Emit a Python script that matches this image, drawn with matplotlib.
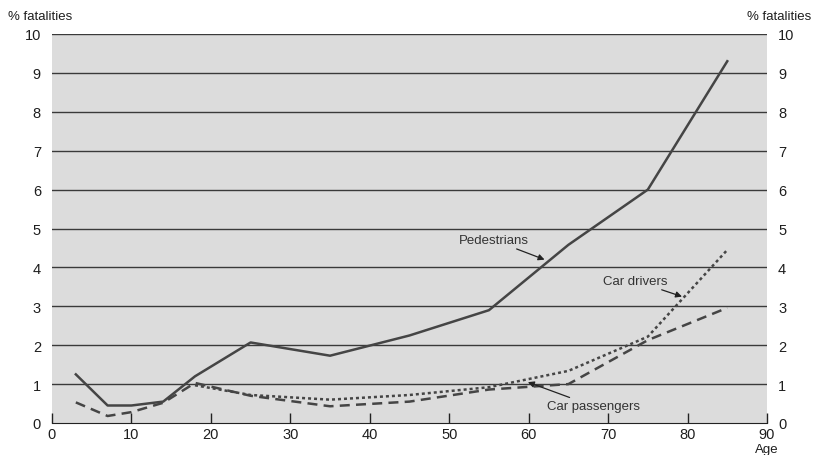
import numpy as np
import matplotlib.pyplot as plt

plt.rcParams['font.family'] = ['Liberation Sans Narrow', 'Liberation Sans', 'DejaVu Sans']

# age groups (mid points) and % of fatalities
ped_age = [3, 7, 10, 14, 18, 25, 35, 45, 55, 65, 75, 85]
pedestrians = [1.25, 0.45, 0.45, 0.55, 1.2, 2.07, 1.73, 2.25, 2.9, 4.58, 6.0, 9.3]

drv_age = [18, 25, 35, 45, 55, 65, 75, 85]
car_drivers = [0.97, 0.72, 0.6, 0.72, 0.92, 1.34, 2.22, 4.45]

pas_age = [3, 7, 10, 14, 18, 25, 35, 45, 55, 65, 75, 85]
car_passengers = [0.53, 0.18, 0.28, 0.52, 1.03, 0.7, 0.43, 0.55, 0.86, 1.0, 2.13, 2.96]

x_ticks = [0, 10, 20, 30, 40, 50, 60, 70, 80, 90]
y_ticks = list(range(0, 11))

line_col = '#454545'
txt_col = '#1e1e1e'

fig = plt.figure(figsize=(8.13, 4.56), dpi=100)
ax = fig.add_axes([52 / 813, 1 - 424 / 456, 715 / 813, 389 / 456])
ax.set_facecolor('#dcdcdc')

for y in y_ticks[1:]:
    ax.axhline(y, color='#3a3a3a', lw=1.0, zorder=1)

ax.plot(ped_age, pedestrians, color=line_col, lw=1.8, zorder=3)
ax.plot(drv_age, car_drivers, color=line_col, lw=1.8, ls=(0, (1.2, 1.2)), zorder=3)
ax.plot(pas_age, car_passengers, color=line_col, lw=1.8, ls=(0, (4, 2.5)), zorder=3)

ax.set_xlim(0, 90)
ax.set_ylim(0, 10)
ax.set_xticks(x_ticks)
ax.set_yticks(y_ticks)
for s in ['left', 'right', 'top']:
    ax.spines[s].set_visible(False)
ax.spines['bottom'].set_color('#222222')
ax.tick_params(axis='x', direction='in', length=7, width=1, color='#222222',
               labelsize=10.5, pad=3, labelcolor=txt_col)
ax.tick_params(axis='y', length=0, labelsize=10.5, pad=8, labelleft=True, labelright=True,
               labelcolor=txt_col)

fig.text(8 / 813, 1 - 17 / 456, '% fatalities', fontsize=9.5, va='center', ha='left',
         color=txt_col)
fig.text(811 / 813, 1 - 17 / 456, '% fatalities', fontsize=9.5, va='center', ha='right',
         color=txt_col)
fig.text(767 / 813, 1 - 450 / 456, 'Age', fontsize=9.5, va='center', ha='center',
         color=txt_col)

arrow = dict(arrowstyle='-|>', color='#222222', lw=0.9, mutation_scale=9,
             shrinkA=0, shrinkB=0)
ax.annotate('Pedestrians', xy=(62.0, 4.2), xytext=(60.0, 4.7), ha='right', va='center',
            fontsize=9.5, color='#333333', arrowprops=arrow)
ax.annotate('Car drivers', xy=(79.3, 3.25), xytext=(77.5, 3.65), ha='right', va='center',
            fontsize=9.5, color='#333333', arrowprops=arrow)
ax.annotate('Car passengers', xy=(59.9, 1.05), xytext=(62.3, 0.43), ha='left', va='center',
            fontsize=9.5, color='#333333', arrowprops=arrow)

fig.savefig('out.png', dpi=100)
